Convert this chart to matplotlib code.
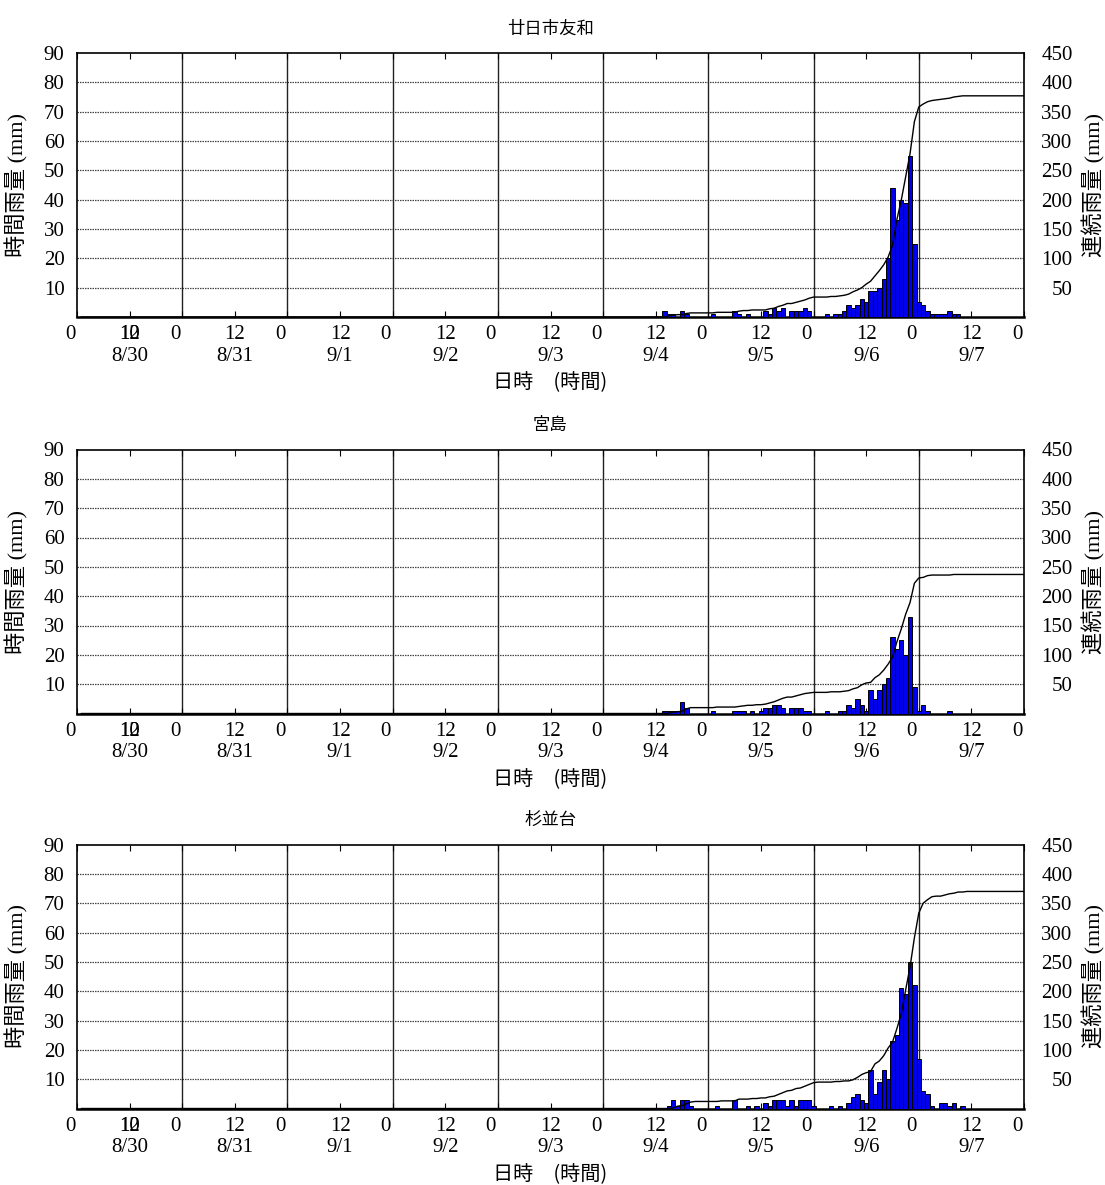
import numpy as np
import matplotlib
matplotlib.use('Agg')
import matplotlib.pyplot as plt
from matplotlib.transforms import ScaledTranslation, blended_transform_factory

# ---------------- data ----------------
stations = ['廿日市友和', '宮島', '杉並台']
day_labels = ['8/30', '8/31', '9/1', '9/2', '9/3', '9/4', '9/5', '9/6', '9/7']
n_days = 9
rain_start_day = 5  # index of 9/4 in day_labels

# hourly rainfall (mm), hours 0..23 of 9/4, 9/5, 9/6, 9/7
hatsukaichi_0904 = [0, 0, 0, 0, 0, 0, 0, 0, 0, 0, 0, 0, 0, 0, 2, 1, 1, 0, 2, 1, 0, 0, 0, 0]
hatsukaichi_0905 = [0, 1, 0, 0, 0, 0, 2, 1, 0, 1, 0, 0, 0, 2, 1, 3, 2, 3, 0, 2, 2, 2, 3, 2]
hatsukaichi_0906 = [0, 0, 0, 1, 0, 1, 1, 2, 4, 3, 4, 6, 5, 9, 9, 10, 13, 20, 44, 33, 40, 39, 55, 25]
hatsukaichi_0907 = [5, 4, 2, 1, 1, 1, 1, 2, 1, 1, 0, 0, 0, 0, 0, 0, 0, 0, 0, 0, 0, 0, 0, 0]

miyajima_0904 = [0, 0, 0, 0, 0, 0, 0, 0, 0, 0, 0, 0, 0, 0, 1, 1, 1, 1, 4, 2, 0, 0, 0, 0]
miyajima_0905 = [0, 1, 0, 0, 0, 0, 1, 1, 1, 0, 1, 0, 1, 2, 2, 3, 3, 2, 0, 2, 2, 2, 1, 1]
miyajima_0906 = [0, 0, 0, 1, 0, 0, 1, 1, 3, 2, 5, 3, 1, 8, 5, 8, 10, 12, 26, 22, 25, 20, 33, 9]
miyajima_0907 = [1, 3, 1, 0, 0, 0, 0, 1, 0, 0, 0, 0, 0, 0, 0, 0, 0, 0, 0, 0, 0, 0, 0, 0]

suginamidai_0904 = [0, 0, 0, 0, 0, 0, 0, 0, 0, 0, 0, 0, 0, 0, 0, 1, 3, 1, 3, 3, 1, 0, 0, 0]
suginamidai_0905 = [0, 0, 1, 0, 0, 0, 3, 0, 0, 1, 0, 1, 0, 2, 1, 3, 3, 3, 1, 3, 1, 3, 3, 3]
suginamidai_0906 = [1, 0, 0, 0, 1, 0, 1, 0, 2, 4, 5, 3, 2, 13, 5, 9, 13, 10, 23, 25, 41, 39, 50, 42]
suginamidai_0907 = [17, 6, 5, 1, 0, 2, 2, 1, 2, 0, 1, 0, 0, 0, 0, 0, 0, 0, 0, 0, 0, 0, 0, 0]

station_days = [
    [hatsukaichi_0904, hatsukaichi_0905, hatsukaichi_0906, hatsukaichi_0907],
    [miyajima_0904, miyajima_0905, miyajima_0906, miyajima_0907],
    [suginamidai_0904, suginamidai_0905, suginamidai_0906, suginamidai_0907],
]

left_ticks = [10, 20, 30, 40, 50, 60, 70, 80, 90]
right_ticks = [50, 100, 150, 200, 250, 300, 350, 400, 450]
xtick_hours = list(range(0, n_days * 24 + 1, 12))

# ---------------- figure ----------------
W, H = 1105, 1185
fig = plt.figure(figsize=(W / 100, H / 100), dpi=100)

serif = ['Liberation Serif', 'DejaVu Serif']
cjk = ['Noto Sans CJK JP', 'DejaVu Sans']
mixed = ['Liberation Serif', 'Noto Sans CJK JP']

ax_left_px, ax_right_px = 77, 1024
bottoms_px = [317, 713.5, 1108.5]
ax_h_px = 264
ax_w_px = ax_right_px - ax_left_px
tick_fs = 15

total_hours = n_days * 24

for i, name in enumerate(stations):
    hourly = np.zeros(total_hours)
    seg = np.concatenate([np.array(d, dtype=float) for d in station_days[i]])
    s = rain_start_day * 24
    hourly[s:s + len(seg)] = seg
    hours = np.arange(total_hours)
    cum = np.cumsum(hourly)

    rect = [ax_left_px / W, 1 - bottoms_px[i] / H, ax_w_px / W, ax_h_px / H]
    ax = fig.add_axes(rect)
    ax.set_xlim(0, total_hours)
    ax.set_ylim(0, 90)

    # grid
    for v in left_ticks[:-1]:
        ax.axhline(v, color='#444444', lw=0.9, ls=(0, (1.2, 0.8)), zorder=1)
    for d in range(1, n_days):
        ax.axvline(d * 24, color='#222222', lw=1.0, zorder=1)

    mask = hourly > 0
    ax.bar(hours[mask], hourly[mask], width=1.0, color='#0000ee', edgecolor='black',
           linewidth=0.7, zorder=3)

    ax.set_yticks(left_ticks)
    ax.set_yticklabels([str(t) for t in left_ticks], fontfamily=serif, fontsize=tick_fs)
    ax.tick_params(axis='y', length=0, pad=9)

    ax.set_xticks(xtick_hours)
    ax.set_xticklabels([str(h % 24) for h in xtick_hours], fontfamily=serif, fontsize=tick_fs)
    ax.tick_params(axis='x', direction='in', length=4, width=0.8, top=True, pad=6)
    for sp in ax.spines.values():
        sp.set_linewidth(1.2)
    ax.spines['bottom'].set_linewidth(1.8)

    ticks = ax.xaxis.get_major_ticks()
    # shift the "0" labels slightly left as in the reference
    for tk in ticks:
        lab = tk.label1
        if lab.get_text() == '0':
            lab.set_transform(lab.get_transform() + ScaledTranslation(-7 / 100, 0, fig.dpi_scale_trans))

    # overlapping "10" at first 12h tick (as printed in the reference)
    ax.text(12, 0, '10', transform=ticks[1].label1.get_transform(),
            ha='center', va='top', fontfamily=serif, fontsize=tick_fs)

    trans = blended_transform_factory(ax.transData, ax.transAxes)
    for d, lab in enumerate(day_labels):
        ax.text(d * 24 + 12, -0.148, lab, transform=trans, ha='center', va='center',
                fontfamily=serif, fontsize=tick_fs)
    ax.text(0.5, -0.25, '日時　(時間)', transform=ax.transAxes, ha='center', va='center',
            fontfamily=cjk, fontsize=14.5)

    ax.set_title(name, fontfamily=cjk, fontsize=12.5, pad=14)
    ax.set_ylabel('時間雨量 (mm)', fontfamily=mixed, fontsize=16)
    ax.yaxis.set_label_coords((28 - ax_left_px) / ax_w_px, 0.5)

    ax2 = ax.twinx()
    ax2.set_ylim(0, 450)
    ax2.plot(hours + 1, cum, color='black', lw=1.0, zorder=5)
    ax2.set_yticks(right_ticks)
    ax2.set_yticklabels([str(t) for t in right_ticks], fontfamily=serif, fontsize=tick_fs, ha='right')
    ax2.tick_params(axis='y', length=0, pad=35)
    ax2.set_ylabel('連続雨量 (mm)', fontfamily=mixed, fontsize=16, rotation=90)
    ax2.yaxis.set_label_coords((1082 - ax_left_px) / ax_w_px, 0.5)
    for sp in ax2.spines.values():
        sp.set_visible(False)

fig.savefig('out.png', dpi=100)
